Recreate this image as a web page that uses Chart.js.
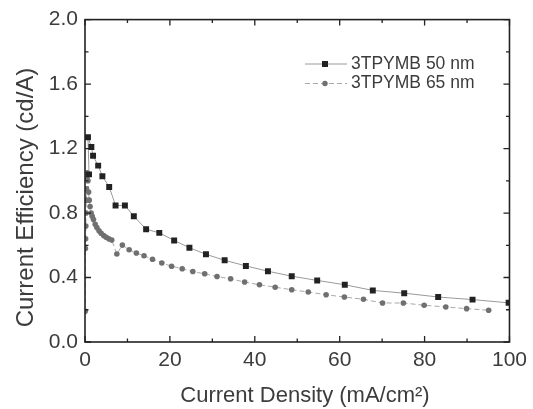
<!DOCTYPE html>
<html>
<head>
<meta charset="utf-8">
<script src="https://cdn.jsdelivr.net/npm/chart.js@4.4.1/dist/chart.umd.min.js"></script>
<style>
    body { margin: 0; background: #fff; }
    #wrap { width: 533px; height: 409px; }
</style>
</head>
<body>
<div id="wrap"><canvas id="effChart" width="533" height="409"></canvas></div>
<script>
// 3TPYMB 50 nm (squares)
const density50 = [0.95, 0.7, 1.5, 1.9, 3.1, 4.1, 5.7, 7.2, 9.4, 11.5, 14.4, 17.5, 21.0, 24.6, 28.5, 32.9, 37.9, 43.1, 48.7, 54.7, 61.2, 67.8, 75.2, 83.2, 91.3, 99.8];
const eff50 = [1.04, 1.27, 1.21, 1.155, 1.094, 1.028, 0.962, 0.847, 0.847, 0.78, 0.70, 0.677, 0.63, 0.585, 0.544, 0.507, 0.472, 0.439, 0.408, 0.382, 0.355, 0.32, 0.303, 0.279, 0.263, 0.243];

// 3TPYMB 65 nm (circles)
const density65 = [0.05, 0.1, 0.15, 0.2, 0.25, 0.3, 0.35, 0.45, 0.55, 0.7, 0.85, 1.0, 1.2, 1.45, 1.7, 2.0, 2.4, 2.8, 3.3, 3.8, 4.4, 5.0, 5.6, 6.3, 7.5, 8.8, 10.4, 12.1, 13.9, 15.9, 18.1, 20.4, 22.9, 25.4, 28.2, 31.1, 34.3, 37.6, 41.1, 44.8, 48.7, 52.6, 56.8, 61.1, 65.6, 70.1, 75.0, 79.9, 85.0, 89.9, 95.1];
const eff65 = [0.19, 0.58, 0.64, 0.72, 0.8, 0.88, 0.95, 1.02, 1.05, 1.0, 0.93, 0.88, 0.84, 0.8, 0.78, 0.76, 0.73, 0.71, 0.69, 0.675, 0.66, 0.65, 0.64, 0.632, 0.546, 0.601, 0.572, 0.552, 0.535, 0.513, 0.49, 0.47, 0.454, 0.437, 0.423, 0.406, 0.392, 0.372, 0.355, 0.34, 0.324, 0.31, 0.293, 0.279, 0.265, 0.242, 0.242, 0.228, 0.217, 0.207, 0.197];

const seriesNames = ['3TPYMB 50 nm', '3TPYMB 65 nm'];
const xTitle = 'Current Density (mA/cm\u00B2)';
const yTitle = 'Current Efficiency (cd/A)';

function toPoints(xs, ys) {
    return xs.map((x, i) => ({ x: x, y: ys[i] }));
}

const textColor = '#3c3c3c';

// frame, inward ticks, titles and legend
const decorations = {
    id: 'decorations',
    afterDraw(chart) {
        const ctx = chart.ctx;
        const area = chart.chartArea;
        const xs = chart.scales.x;
        const ys = chart.scales.y;
        ctx.save();
        ctx.strokeStyle = '#222';
        ctx.lineWidth = 1.6;
        ctx.strokeRect(area.left, area.top, area.right - area.left, area.bottom - area.top);

        ctx.lineWidth = 1.3;
        ctx.beginPath();
        for (let v = 0; v <= 100; v += 10) {
            const px = xs.getPixelForValue(v);
            const len = v % 20 === 0 ? 6 : 3.5;
            ctx.moveTo(px, area.bottom); ctx.lineTo(px, area.bottom - len);
            ctx.moveTo(px, area.top); ctx.lineTo(px, area.top + len);
        }
        for (let i = 0; i <= 10; i++) {
            const py = ys.getPixelForValue(i * 0.2);
            const len = i % 2 === 0 ? 6 : 3.5;
            ctx.moveTo(area.left, py); ctx.lineTo(area.left + len, py);
            ctx.moveTo(area.right, py); ctx.lineTo(area.right - len, py);
        }
        ctx.stroke();

        // axis titles
        ctx.fillStyle = textColor;
        ctx.font = '22px "Liberation Sans", Arial, sans-serif';
        ctx.textAlign = 'center';
        ctx.textBaseline = 'alphabetic';
        ctx.fillText(xTitle, 305, 402);

        ctx.save();
        ctx.translate(26, 197.5);
        ctx.rotate(-Math.PI / 2);
        ctx.font = '24px "Liberation Sans", Arial, sans-serif';
        ctx.textBaseline = 'middle';
        ctx.fillText(yTitle, 0, 0);
        ctx.restore();

        // legend
        const rows = [64, 83.5];
        chart.data.datasets.forEach((ds, i) => {
            const y = rows[i];
            ctx.strokeStyle = ds.borderColor;
            ctx.lineWidth = 1;
            ctx.setLineDash(ds.borderDash || []);
            ctx.beginPath();
            ctx.moveTo(305, y); ctx.lineTo(347, y);
            ctx.stroke();
            ctx.setLineDash([]);
            ctx.fillStyle = ds.pointBackgroundColor;
            if (ds.pointStyle === 'rect') {
                ctx.fillRect(322, y - 3, 6, 6);
            } else {
                ctx.beginPath();
                ctx.arc(325, y, 2.7, 0, Math.PI * 2);
                ctx.fill();
            }
            ctx.fillStyle = textColor;
            ctx.font = '17.5px "Liberation Sans", Arial, sans-serif';
            ctx.textAlign = 'left';
            ctx.textBaseline = 'middle';
            ctx.fillText(ds.label, 351, y);
        });
        ctx.restore();
    }
};

const ctx = document.getElementById('effChart').getContext('2d');
new Chart(ctx, {
    type: 'scatter',
    data: {
        datasets: [{
            label: seriesNames[0],
            data: toPoints(density50, eff50),
            showLine: true,
            borderColor: '#9a9a9a',
            borderWidth: 1,
            pointStyle: 'rect',
            pointRadius: 4.2,
            pointBackgroundColor: '#222',
            pointBorderWidth: 0,
        }, {
            label: seriesNames[1],
            data: toPoints(density65, eff65),
            showLine: true,
            borderColor: '#a8a8a8',
            borderWidth: 1,
            borderDash: [5, 3],
            pointStyle: 'circle',
            pointRadius: 2.8,
            pointBackgroundColor: '#707070',
            pointBorderWidth: 0,
        }]
    },
    options: {
        responsive: false,
        animation: false,
        layout: { padding: { top: 17, right: 23.5, left: 0, bottom: 0 } },
        plugins: {
            legend: { display: false },
            tooltip: { enabled: false }
        },
        scales: {
            x: {
                type: 'linear',
                min: 0,
                max: 100,
                grid: { display: false, drawTicks: false },
                border: { display: false },
                ticks: {
                    stepSize: 20,
                    padding: 6,
                    color: textColor,
                    font: { family: '"Liberation Sans", Arial, sans-serif', size: 21 }
                },
                afterFit: function (scale) { scale.height = 67; }
            },
            y: {
                type: 'linear',
                min: 0,
                max: 2,
                grid: { display: false, drawTicks: false },
                border: { display: false },
                ticks: {
                    stepSize: 0.4,
                    padding: 7,
                    color: textColor,
                    font: { family: '"Liberation Sans", Arial, sans-serif', size: 21 },
                    callback: function (value) { return value.toFixed(1); }
                },
                afterFit: function (scale) { scale.width = 85; }
            }
        }
    },
    plugins: [decorations]
});
</script>
</body>
</html>
